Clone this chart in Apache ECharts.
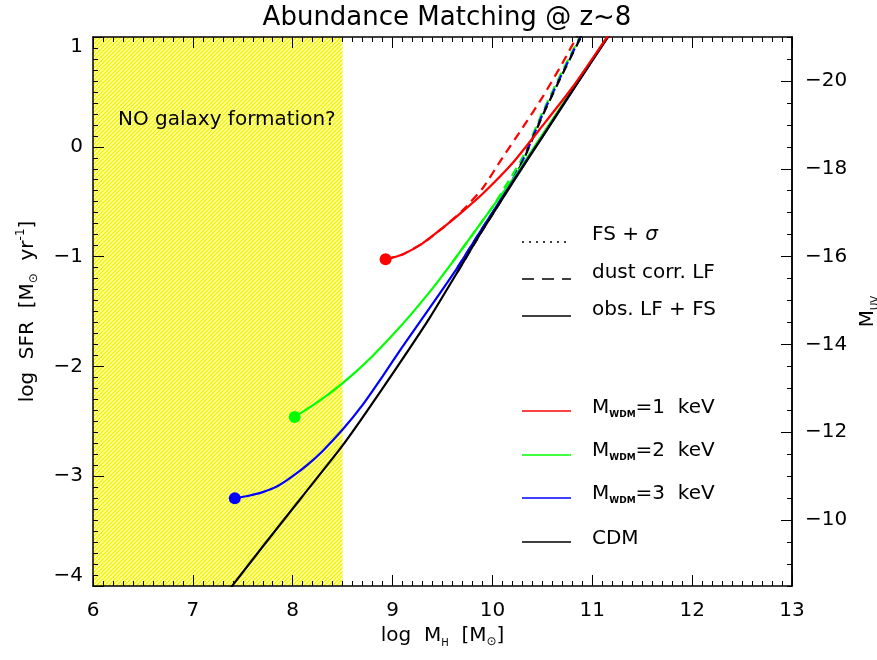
<!DOCTYPE html>
<html>
<head>
<meta charset="utf-8">
<script src="https://cdn.jsdelivr.net/npm/echarts@6/dist/echarts.min.js"></script>
<style>
html,body{margin:0;padding:0;background:#fff;}
#chart{width:877px;height:660px;}
</style>
</head>
<body>
<div id="chart"></div>
<script>
// ---- axis ranges / ticks ----
const xRange = [6, 13];
const sfrRange = [-4, 1];
const muvRange = [-21, -8.5];
const muvMajorTicks = [-20, -18, -16, -14, -12, -10];
const noFormationRange = [6, 8.5];

// ---- curves: [log M_H, log SFR] ----
const cdmSolid = [[7.35,-4.05],[7.7,-3.64],[8.1,-3.18],[8.5,-2.72],[8.9,-2.2],[9.37,-1.56],[9.65,-1.14],[9.9,-0.76],[10.2,-0.33],[10.5,0.09],[10.8,0.51],[11.2,1.06]];
const cdmDust = [[9.65,-1.14],[9.9,-0.76],[10.1,-0.47],[10.3,-0.14],[10.5,0.28],[10.7,0.66],[10.92,1.06]];
const wdm3Solid = [[7.42,-3.2],[7.55,-3.18],[7.7,-3.145],[7.85,-3.09],[8.0,-3.0],[8.15,-2.895],[8.3,-2.77],[8.5,-2.575],[8.7,-2.35],[8.9,-2.09],[9.1,-1.82],[9.37,-1.47],[9.65,-1.1],[9.9,-0.74],[10.2,-0.32],[10.5,0.09],[10.8,0.51],[11.2,1.06]];
const wdm3Dust = [[9.65,-1.1],[9.9,-0.74],[10.1,-0.46],[10.3,-0.13],[10.5,0.29],[10.7,0.67],[10.92,1.07]];
const wdm2Solid = [[8.02,-2.46],[8.2,-2.355],[8.4,-2.225],[8.6,-2.075],[8.8,-1.905],[9.0,-1.715],[9.2,-1.51],[9.4,-1.29],[9.6,-1.05],[9.8,-0.8],[10.0,-0.55],[10.2,-0.3],[10.5,0.11],[10.8,0.52],[11.2,1.07]];
const wdm2Dust = [[9.6,-1.05],[9.8,-0.8],[10.0,-0.55],[10.15,-0.33],[10.3,-0.1],[10.5,0.31],[10.7,0.69],[10.92,1.08]];
const wdm1Solid = [[8.93,-1.025],[9.1,-0.98],[9.3,-0.88],[9.5,-0.74],[9.7,-0.59],[9.9,-0.43],[10.2,-0.15],[10.5,0.19],[10.8,0.54],[11.15,1.0],[11.2,1.06]];
const wdm1Dust = [[8.93,-1.025],[9.1,-0.98],[9.3,-0.88],[9.5,-0.74],[9.7,-0.58],[9.9,-0.38],[10.1,-0.1],[10.3,0.17],[10.5,0.45],[10.7,0.76],[10.88,1.06]];

const FONT = 'DejaVu Sans';
const minus = v => String(v).replace('-', '\u2212');

function hatch() {
  const c = document.createElement('canvas');
  c.width = 4; c.height = 4;
  const g = c.getContext('2d');
  g.fillStyle = '#ffff40';
  g.fillRect(0, 0, 4, 4);
  g.fillStyle = '#ffffd8';
  for (let i = 0; i < 4; i++) g.fillRect(i, 3 - i, 1, 1);
  g.fillStyle = '#ecec20';
  for (let i = 0; i < 4; i++) g.fillRect(i, (5 - i) % 4, 1, 1);
  return c;
}

const chart = echarts.init(document.getElementById('chart'), null, {renderer: 'canvas'});

const axisLine = {show: true, onZero: false, lineStyle: {color: '#000', width: 1.5}};
const tickStyle = {color: '#000', width: 1};

function lineSeries(data, color, dash, z) {
  return {
    type: 'line', data: data, showSymbol: false, smooth: 0.2,
    xAxisIndex: 0, yAxisIndex: 0, z: z, silent: true,
    lineStyle: {color: color, width: 2.2, type: dash || 'solid'}
  };
}

const dash = [9, 6];

const option = {
  animation: false,
  backgroundColor: '#fff',
  title: {
    text: 'Abundance Matching @ z~8', left: 442, top: 0, textAlign: 'center',
    textStyle: {fontFamily: FONT, fontSize: 26, fontWeight: 'normal', color: '#000'}
  },
  grid: {left: 93, right: 85, top: 37, bottom: 74, containLabel: false, outerBoundsMode: 'none'},
  xAxis: [{
    type: 'value', min: xRange[0], max: xRange[1], interval: 1, position: 'bottom', z: 5,
    axisLine: axisLine,
    axisTick: {show: true, inside: true, length: 11, lineStyle: tickStyle},
    minorTick: {show: true, splitNumber: 10, length: 5, lineStyle: tickStyle},
    splitLine: {show: false},
    axisLabel: {fontFamily: FONT, fontSize: 20, color: '#000', margin: 15},
    name: '{a|log  M}{s|H}{a|  [M}{o|\u2299}{a|]}', nameLocation: 'middle', nameGap: 40,
    nameTextStyle: {
      rich: {
        a: {fontFamily: FONT, fontSize: 20, color: '#000'},
        s: {fontFamily: FONT, fontSize: 10, color: '#000', verticalAlign: 'bottom', padding: [0,0,-2,0]},
        o: {fontFamily: FONT, fontSize: 12, color: '#000', verticalAlign: 'bottom', padding: [0,0,-2,0]}
      }
    }
  }, {
    type: 'value', min: xRange[0], max: xRange[1], interval: 1, position: 'top', z: 5,
    axisLine: axisLine,
    axisTick: {show: true, inside: true, length: 11, lineStyle: tickStyle},
    minorTick: {show: true, splitNumber: 10, length: 5, lineStyle: tickStyle},
    splitLine: {show: false},
    axisLabel: {show: false}
  }],
  yAxis: [{
    type: 'value', min: sfrRange[0], max: sfrRange[1], interval: 1, position: 'left', z: 5,
    axisLine: axisLine,
    axisTick: {show: true, inside: true, length: 11, lineStyle: tickStyle},
    minorTick: {show: true, splitNumber: 10, length: 5, lineStyle: tickStyle},
    splitLine: {show: false},
    axisLabel: {fontFamily: FONT, fontSize: 20, color: '#000', margin: 10, formatter: minus,
      verticalAlignMinLabel: 'bottom', verticalAlignMaxLabel: 'top'},
    name: '{a|log  SFR  [M}{o|\u2299}{a|  yr}{p|-1}{a|]}', nameLocation: 'middle', nameGap: 55, nameRotate: 90,
    nameTextStyle: {
      rich: {
        a: {fontFamily: FONT, fontSize: 20, color: '#000'},
        o: {fontFamily: FONT, fontSize: 12, color: '#000', verticalAlign: 'bottom', padding: [0,0,-2,0]},
        p: {fontFamily: FONT, fontSize: 12, color: '#000', verticalAlign: 'top', padding: [-3,0,0,0]}
      }
    }
  }, {
    type: 'value', min: muvRange[0], max: muvRange[1], inverse: true, interval: 0.5, position: 'right', z: 5,
    axisLine: axisLine,
    axisTick: {show: true, inside: true, length: 5, lineStyle: tickStyle},
    splitLine: {show: false},
    axisLabel: {show: false}
  }, {
    type: 'value', min: muvRange[0], max: muvRange[1], inverse: true, position: 'right', z: 5,
    axisLine: axisLine,
    axisTick: {show: true, inside: true, length: 11, lineStyle: tickStyle, customValues: muvMajorTicks},
    splitLine: {show: false},
    axisLabel: {fontFamily: FONT, fontSize: 20, color: '#000', margin: 13, formatter: minus, customValues: muvMajorTicks},
    name: '{a|M}{s|UV}', nameLocation: 'middle', nameGap: 63, nameRotate: 90,
    nameTextStyle: {
      rich: {
        a: {fontFamily: FONT, fontSize: 20, color: '#000'},
        s: {fontFamily: FONT, fontSize: 10, color: '#000', verticalAlign: 'bottom', padding: [0,0,-2,0]}
      }
    }
  }],
  series: [
    {
      type: 'line', data: [], xAxisIndex: 0, yAxisIndex: 0, z: 0, silent: true,
      markArea: {
        silent: true,
        itemStyle: {color: {image: hatch(), repeat: 'repeat'}},
        data: [[{xAxis: noFormationRange[0], yAxis: sfrRange[0]}, {xAxis: noFormationRange[1], yAxis: sfrRange[1]}]]
      }
    },
    lineSeries(wdm2Dust, '#00ff00', dash, 2),
    lineSeries(wdm3Dust, '#0000ff', dash, 2),
    lineSeries(cdmDust, '#000000', dash, 3),
    lineSeries(wdm1Dust, '#ff0000', dash, 3),
    lineSeries(wdm2Solid, '#00ff00', 'solid', 4),
    lineSeries(wdm3Solid, '#0000ff', 'solid', 4),
    lineSeries(cdmSolid, '#000000', 'solid', 5),
    lineSeries(wdm1Solid, '#ff0000', 'solid', 5),
    {
      type: 'scatter', xAxisIndex: 0, yAxisIndex: 0, z: 6, silent: true, symbolSize: 12,
      itemStyle: {opacity: 1},
      data: [
        {value: wdm1Solid[0], itemStyle: {color: '#ff0000', opacity: 1}},
        {value: wdm2Solid[0], itemStyle: {color: '#00ff00', opacity: 1}},
        {value: wdm3Solid[0], itemStyle: {color: '#0000ff', opacity: 1}}
      ]
    }
  ]
};

// ---- legend & annotation (drawn as graphic elements) ----
const legendRows = [
  {y: 242, ty: 237, color: '#000', dash: [2, 5], text: '{a|FS + }{i|\u03c3}'},
  {y: 279, ty: 275, color: '#000', dash: [12, 8], text: '{a|dust corr. LF}'},
  {y: 316, ty: 312, color: '#000', dash: null, text: '{a|obs. LF + FS}'},
  {y: 411, ty: 410, color: '#ff0000', dash: null, text: '{a|M}{s|WDM}{a|=1  keV}'},
  {y: 455, ty: 453, color: '#00ff00', dash: null, text: '{a|M}{s|WDM}{a|=2  keV}'},
  {y: 498, ty: 496, color: '#0000ff', dash: null, text: '{a|M}{s|WDM}{a|=3  keV}'},
  {y: 542, ty: 541, color: '#000', dash: null, text: '{a|CDM}'}
];
const rich = {
  a: {fontFamily: FONT, fontSize: 20, color: '#000'},
  i: {fontFamily: FONT, fontSize: 20, color: '#000', fontStyle: 'italic'},
  s: {fontFamily: FONT, fontSize: 9, fontWeight: 'bold', color: '#000', verticalAlign: 'bottom', padding: [0,0,-1,0]}
};
const graphic = [];
legendRows.forEach(r => {
  graphic.push({
    type: 'line', silent: true, z: 10,
    shape: {x1: 522, y1: r.y, x2: 571, y2: r.y},
    style: {stroke: r.color, lineWidth: 1.6, lineDash: r.dash || null}
  });
  graphic.push({
    type: 'text', silent: true, z: 10, left: 592, top: r.ty - 12,
    style: {text: r.text, rich: rich, fill: '#000'}
  });
});
graphic.push({
  type: 'text', silent: true, z: 10, left: 118, top: 110,
  style: {text: 'NO galaxy formation?', fontFamily: FONT, fontSize: 20, fill: '#000'}
});
option.graphic = graphic;

chart.setOption(option);
</script>
</body>
</html>
